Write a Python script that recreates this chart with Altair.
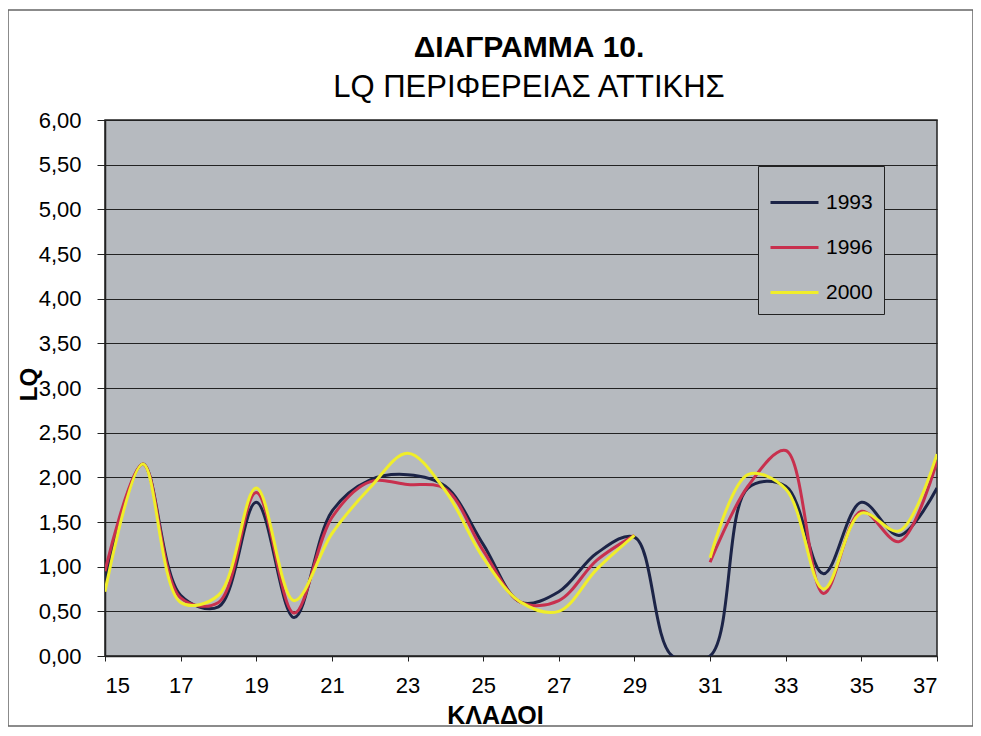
import altair as alt
import pandas as pd

# ---- data ----
kladoi = list(range(15, 38))
lq_1993 = [0.85, 2.15, 0.68, 0.55, 1.72, 0.43, 1.62, 1.97, 2.03, 1.90, 1.25, 0.60,
           0.72, 1.15, 1.33, 0.00, 0.00, 1.88, 1.90, 0.92, 1.72, 1.35, 1.88]
lq_1996 = [0.95, 2.15, 0.65, 0.60, 1.83, 0.48, 1.55, 1.95, 1.92, 1.87, 1.18, 0.60,
           0.62, 1.07, 1.35, None, 1.05, 1.90, 2.30, 0.70, 1.62, 1.28, 2.18]
lq_2000 = [0.72, 2.15, 0.60, 0.68, 1.88, 0.62, 1.37, 1.88, 2.27, 1.85, 1.10, 0.60,
           0.50, 0.97, 1.35, None, 1.10, 2.03, 1.87, 0.75, 1.60, 1.40, 2.26]
years = ["1993", "1996", "2000"]
colors = ["#1c2447", "#c8304e", "#f0ee2a"]
y_ticks = [0, 0.5, 1, 1.5, 2, 2.5, 3, 3.5, 4, 4.5, 5, 5.5, 6]
x_ticks = list(range(15, 38, 2))
title_lines = ["ΔΙΑΓΡΑΜΜΑ 10.", "LQ ΠΕΡΙΦΕΡΕΙΑΣ ΑΤΤΙΚΗΣ"]

rows = []
for name, vals in zip(years, [lq_1993, lq_1996, lq_2000]):
    seg = 0
    for k, v in zip(kladoi, vals):
        if v is None:
            seg += 1
            continue
        rows.append({"klados": k, "LQ": v, "year": name, "seg": f"{name}-{seg}"})
df = pd.DataFrame(rows)

FONT = "Liberation Sans"
PLOT_BG = "#b6babf"

lines = alt.Chart(df).mark_line(interpolate="catmull-rom", strokeWidth=3, clip=True).encode(
    x=alt.X("klados:Q",
            scale=alt.Scale(domain=[15, 37], nice=False, zero=False),
            axis=alt.Axis(values=x_ticks, title="ΚΛΑΔΟΙ", grid=False,
                          labelFontSize=22, labelPadding=14, tickSize=5,
                          titleFontSize=25, titleFontWeight="bold",
                          titleX=390, titleY=59, titleBaseline="middle",
                          titleAlign="center")),
    y=alt.Y("LQ:Q",
            scale=alt.Scale(domain=[0, 6], nice=False),
            axis=alt.Axis(values=y_ticks, title="LQ", grid=True,
                          gridColor="#222222", gridWidth=1.2,
                          labelExpr="replace(format(datum.value, '.2f'), '.', ',')",
                          labelFontSize=22, labelPadding=16, tickSize=8,
                          titleFontSize=24, titleFontWeight="bold",
                          titleX=-76, titleY=264, titleBaseline="middle",
                          titleAlign="center")),
    color=alt.Color("year:N",
                    scale=alt.Scale(domain=years, range=colors),
                    legend=alt.Legend(title=None, orient="none",
                                      legendX=653, legendY=46,
                                      fillColor=PLOT_BG, strokeColor="#222222",
                                      padding=11, symbolType="stroke",
                                      symbolSize=2304, symbolStrokeWidth=3,
                                      labelFontSize=21, labelFont=FONT,
                                      labelColor="black", rowPadding=9,
                                      labelOffset=6)),
    detail="seg:N",
)

frame = alt.Chart(pd.DataFrame({"a": [0]})).mark_rect(
    fill="transparent", stroke="#666666", strokeWidth=1.5, clip=False
).encode(x=alt.value(-97), x2=alt.value(868), y=alt.value(-110), y2=alt.value(606))

tdf = pd.DataFrame({"t": title_lines, "i": [0, 1]})
title_main = alt.Chart(tdf[tdf.i == 0]).mark_text(
    font=FONT, fontSize=30, fontWeight="bold", color="black",
    align="center", baseline="alphabetic", clip=False
).encode(text="t:N", x=alt.value(424), y=alt.value(-63))
title_sub = alt.Chart(tdf[tdf.i == 1]).mark_text(
    font=FONT, fontSize=31, color="black",
    align="center", baseline="alphabetic", clip=False
).encode(text="t:N", x=alt.value(424), y=alt.value(-23))

chart = alt.layer(frame, lines, title_main, title_sub).properties(
    width=832, height=536,
    padding={"left": 97, "top": 112, "right": 36, "bottom": 72},
    autosize=alt.AutoSizeParams(type="none"),
).configure_view(fill=PLOT_BG, stroke="#222222", strokeWidth=1.5
).configure_axis(labelFont=FONT, titleFont=FONT, labelColor="black",
                 titleColor="black", domainColor="#222222", tickColor="#222222",
                 domainWidth=1.5)

chart.save("out.html", embed_options={"renderer": "svg", "actions": False})
